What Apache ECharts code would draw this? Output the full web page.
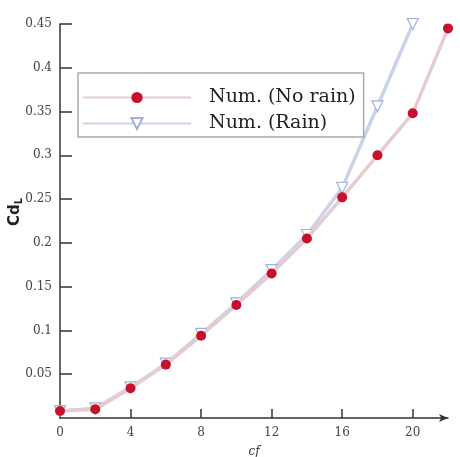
<!DOCTYPE html>
<html><head><meta charset="utf-8">
<script src="https://cdn.jsdelivr.net/npm/echarts@6/dist/echarts.min.js"></script>
<style>html,body{margin:0;padding:0;background:#fff}#c{width:460px;height:457px}</style>
</head><body><div id="c"></div>
<script>
var xNoRain = [0, 2, 4, 6, 8, 10, 12, 14, 16, 18, 20, 22];
var yNoRain = [0.008, 0.010, 0.034, 0.061, 0.094, 0.129, 0.165, 0.205, 0.252, 0.300, 0.348, 0.445];
var xRain = [0, 2, 4, 6, 8, 10, 12, 14, 16, 18, 20];
var yRain = [0.008, 0.011, 0.035, 0.062, 0.096, 0.131, 0.169, 0.209, 0.263, 0.356, 0.450];
var xTicks = [0, 4, 8, 12, 16, 20];
var seriesNames = ['Num. (No rain)', 'Num. (Rain)'];
var yTitle = 'Cd{s|L}';

function pairs(xs, ys) { return xs.map(function (x, i) { return [x, ys[i]]; }); }

var chart = echarts.init(document.getElementById('c'), null, {renderer: 'canvas'});
chart.setOption({
  backgroundColor: '#fff',
  animation: false,
  grid: {left: 60, right: 12, top: 24, bottom: 39, containLabel: false, outerBoundsMode: 'none'},
  graphic: [{
    type: 'text', x: 15, y: 212, rotation: Math.PI / 2,
    style: {
      text: yTitle, align: 'center', verticalAlign: 'middle',
      fontFamily: 'DejaVu Sans', fontSize: 15, fontWeight: 'bold', fill: '#222',
      rich: {s: {fontSize: 10, fontWeight: 'bold', verticalAlign: 'bottom', padding: [8, 0, 0, 0], fontFamily: 'DejaVu Sans', fill: '#222'}}
    }
  }],
  legend: {
    orient: 'vertical', left: 78, top: 73,
    data: seriesNames,
    itemWidth: 108, itemHeight: 14, itemGap: 7,
    padding: [15, 8, 4, 4],
    borderColor: '#aaa', borderWidth: 1.5,
    textStyle: {fontFamily: 'DejaVu Serif', fontSize: 19, lineHeight: 14, color: '#222', padding: [0, 0, 0, 13]}
  },
  xAxis: {
    type: 'value', min: 0, max: 22, interval: 2,
    name: 'cf', nameLocation: 'middle', nameGap: 28,
    nameTextStyle: {fontFamily: 'DejaVu Serif', fontSize: 12, color: '#333', fontStyle: 'italic'},
    axisLine: {lineStyle: {color: '#333', width: 1.5}, symbol: ['none', 'arrow'], symbolSize: [6, 9]},
    axisTick: {inside: true, length: 9, lineStyle: {color: '#333', width: 1.5}, customValues: xTicks},
    axisLabel: {customValues: xTicks, fontFamily: 'DejaVu Serif', fontSize: 12, color: '#444', margin: 9},
    splitLine: {show: false}
  },
  yAxis: {
    type: 'value', min: 0, max: 0.45, interval: 0.05,
    axisLine: {show: true, lineStyle: {color: '#333', width: 1.5}},
    axisTick: {inside: true, length: 12, lineStyle: {color: '#333', width: 1.5}},
    axisLabel: {showMinLabel: false, fontFamily: 'DejaVu Serif', fontSize: 12, color: '#444', margin: 8},
    splitLine: {show: false}
  },
  series: [
    {
      name: seriesNames[0], type: 'line', z: 3,
      data: pairs(xNoRain, yNoRain),
      symbol: 'circle', symbolSize: 10,
      itemStyle: {color: '#c8102e'},
      lineStyle: {color: '#e6cbd0', width: 3.5}
    },
    {
      name: seriesNames[1], type: 'line', z: 2,
      data: pairs(xRain, yRain),
      symbol: 'triangle', symbolRotate: 180, symbolSize: 11,
      itemStyle: {color: '#fff', borderColor: '#9fb0e0', borderWidth: 1.2},
      lineStyle: {color: '#c9d3ea', width: 3.5}
    }
  ]
});
</script></body></html>
